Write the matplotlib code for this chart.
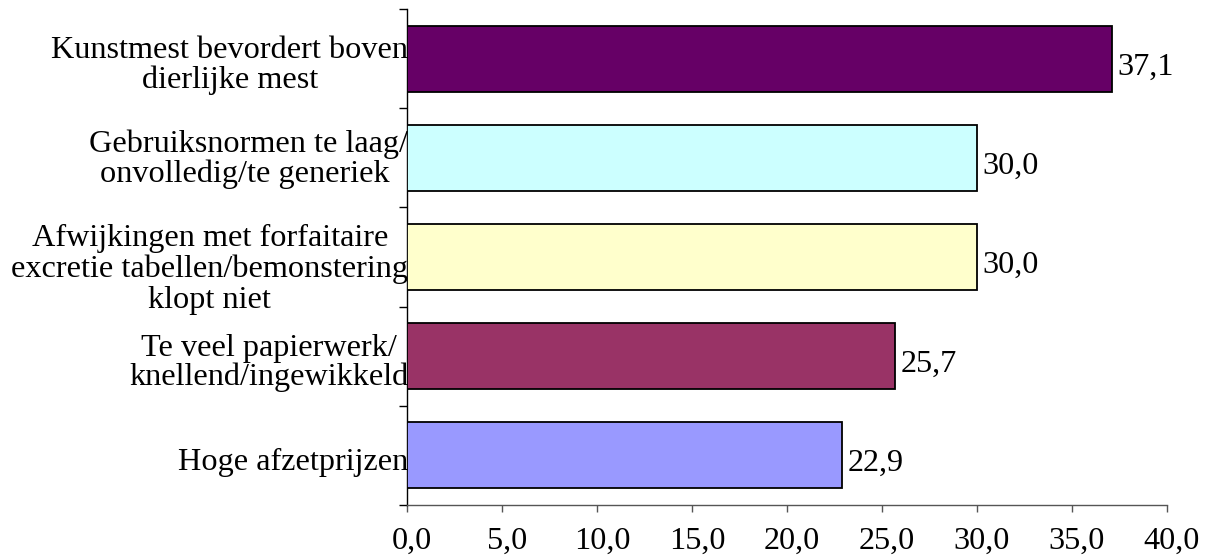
import matplotlib.pyplot as plt
import matplotlib.transforms as mtransforms
import numpy as np

# data, top to bottom as in the chart
categories = ['Kunstmest bevordert boven\ndierlijke mest',
              'Gebruiksnormen te laag/\nonvolledig/te generiek ',
              'Afwijkingen met forfaitaire\nexcretie tabellen/bemonstering\nklopt niet',
              'Te veel papierwerk/\nknellend/ingewikkeld',
              'Hoge afzetprijzen']
values = [37.1, 30.0, 30.0, 25.7, 22.9]
value_labels = ['37,1', '30,0', '30,0', '25,7', '22,9']
colors = ['#660066', '#CCFFFF', '#FFFFCC', '#993366', '#9999FF']
xticks = [0, 5, 10, 15, 20, 25, 30, 35, 40]
xtick_labels = ['0,0', '5,0', '10,0', '15,0', '20,0', '25,0', '30,0', '35,0', '40,0']

# small vertical nudges (points) for the category labels, like the original
label_dy = [-5, -1, -9, -5, -5]
label_ls = [1.0, 1.0, 1.08, 1.0, 1.0]

plt.rcParams['font.family'] = ['Liberation Serif', 'DejaVu Serif']
fs = 23.2

fig = plt.figure(figsize=(12.15, 5.6), dpi=100)
ax = fig.add_axes([407 / 1215, 1 - 505 / 560, (1167 - 407) / 1215, (505 - 9) / 560])

n = len(categories)
ypos = np.arange(n)[::-1]
ax.barh(ypos, values, height=0.665, color=colors, edgecolor='black', linewidth=1.3, zorder=3)

ax.set_xlim(0, 40)
ax.set_ylim(-0.5, n - 0.5)

# value labels to the right of the bars
for y, v, lab in zip(ypos, values, value_labels):
    ax.annotate(lab, (v, y), xytext=(4, -6), textcoords='offset points',
                ha='left', va='center', fontsize=fs)

# category labels, right aligned against the axis, lines centered
trans = mtransforms.blended_transform_factory(ax.transAxes, ax.transData)
for y, cat, dy, ls in zip(ypos, categories, label_dy, label_ls):
    ax.annotate(cat, (0, y), xycoords=trans, xytext=(1, dy), textcoords='offset points',
                ha='right', va='center', multialignment='center',
                fontsize=fs, linespacing=ls, annotation_clip=False)

# x axis
ax.set_xticks(xticks)
ax.set_xticklabels(xtick_labels, fontsize=fs)
ax.tick_params(axis='x', direction='out', length=5, width=1, pad=11, color='#555555')
shift = mtransforms.ScaledTranslation(5 / 100, 0, fig.dpi_scale_trans)
for t in ax.get_xticklabels():
    t.set_transform(t.get_transform() + shift)

# y axis: ticks at category boundaries only
ax.set_yticks(np.arange(-0.5, n, 1.0))
ax.set_yticklabels([])
ax.tick_params(axis='y', direction='out', length=6, width=1)

for side in ['top', 'right']:
    ax.spines[side].set_visible(False)
ax.spines['left'].set_linewidth(1)
ax.spines['bottom'].set_linewidth(1)
ax.spines['bottom'].set_color('#555555')

fig.savefig('out.png', dpi=100)
